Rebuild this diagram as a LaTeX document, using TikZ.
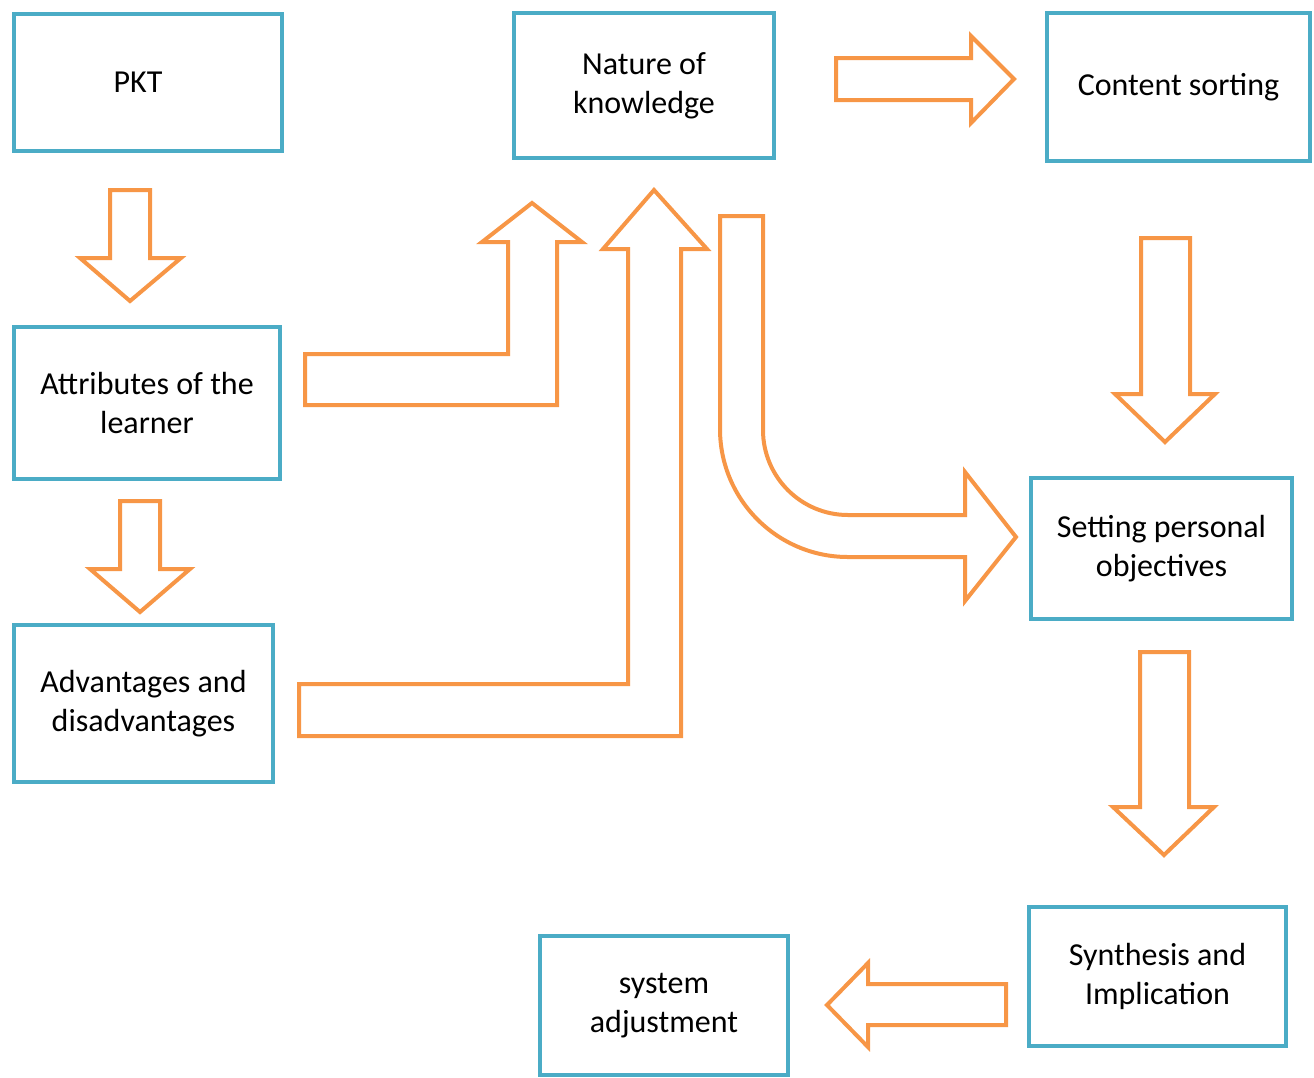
\documentclass[tikz,border=0pt]{standalone}
\usepackage{fontspec}
\setmainfont{Carlito}
\definecolor{boxblue}{HTML}{4BACC6}
\definecolor{arrorange}{HTML}{F79646}
\begin{document}
\begin{tikzpicture}[x=0.5pt,y=-0.5pt,
  box/.style={draw=boxblue, line width=2.2pt, rectangle, align=center, text=black,
    font=\fontsize{16pt}{19.5pt}\selectfont, inner sep=0pt},
  blockarrow/.style={draw=arrorange, line width=2pt, line join=miter, fill=white}]
\useasboundingbox (0,0) rectangle (1314,1078);

\node[box, minimum width=134pt, minimum height=68.5pt] (pkt) at (148,82.5) {PKT\hspace{10pt}};
\node[box, minimum width=130pt, minimum height=72.5pt] (nature) at (644,85.5) {Nature of\\knowledge};
\node[box, minimum width=131.5pt, minimum height=74pt] (content) at (1178.5,87) {Content sorting};
\node[box, minimum width=133pt, minimum height=76pt] (attr) at (147,403) {Attributes of the\\learner};
\node[box, minimum width=129.5pt, minimum height=78.5pt] (adv) at (143.5,703.5) {Advantages and\\disadvantages};
\node[box, minimum width=130.5pt, minimum height=70.5pt] (setting) at (1161.5,548.5) {Setting personal\\objectives};
\node[box, minimum width=128.5pt, minimum height=69.5pt] (synth) at (1157.5,976.5) {Synthesis and\\Implication};
\node[box, minimum width=124pt, minimum height=69.5pt] (sys) at (664,1005.5) {system\\adjustment};

% PKT -> Attributes
\draw[blockarrow] (110,190) -- (150,190) -- (150,258) -- (181,258) -- (130,301) -- (80,258) -- (110,258) -- cycle;
% Attributes -> Advantages
\draw[blockarrow] (120,501) -- (160,501) -- (160,569) -- (190,569) -- (140,612) -- (90,569) -- (120,569) -- cycle;
% Nature -> Content
\draw[blockarrow] (836,58) -- (971,58) -- (971,36) -- (1014,79) -- (971,123) -- (971,100) -- (836,100) -- cycle;
% Content -> Setting
\draw[blockarrow] (1141,238) -- (1190,238) -- (1190,394) -- (1215,394) -- (1165,442) -- (1115,394) -- (1141,394) -- cycle;
% Setting -> Synthesis
\draw[blockarrow] (1140,652) -- (1189,652) -- (1189,807) -- (1214,807) -- (1164,855) -- (1113,807) -- (1140,807) -- cycle;
% Synthesis -> system
\draw[blockarrow] (1006,984) -- (868,984) -- (868,963) -- (827,1005) -- (868,1047) -- (868,1025) -- (1006,1025) -- cycle;
% Attributes -> Nature (bent)
\draw[blockarrow] (305,354) -- (508,354) -- (508,242) -- (482,242) -- (532,203) -- (582,242) -- (557,242) -- (557,405) -- (305,405) -- cycle;
% Advantages -> Nature (bent)
\draw[blockarrow] (299,684) -- (628,684) -- (628,249) -- (603,249) -- (654,190) -- (707,249) -- (681,249) -- (681,736) -- (299,736) -- cycle;
% Nature -> Setting (curved)
\draw[blockarrow] (720,216) -- (763,216) -- (763,430) arc[start angle=180, end angle=90, radius=85] -- (965,515) -- (965,472) -- (1016,537) -- (965,601) -- (965,557) -- (848,557) arc[start angle=90, end angle=180, radius=128] -- cycle;
\end{tikzpicture}
\end{document}
